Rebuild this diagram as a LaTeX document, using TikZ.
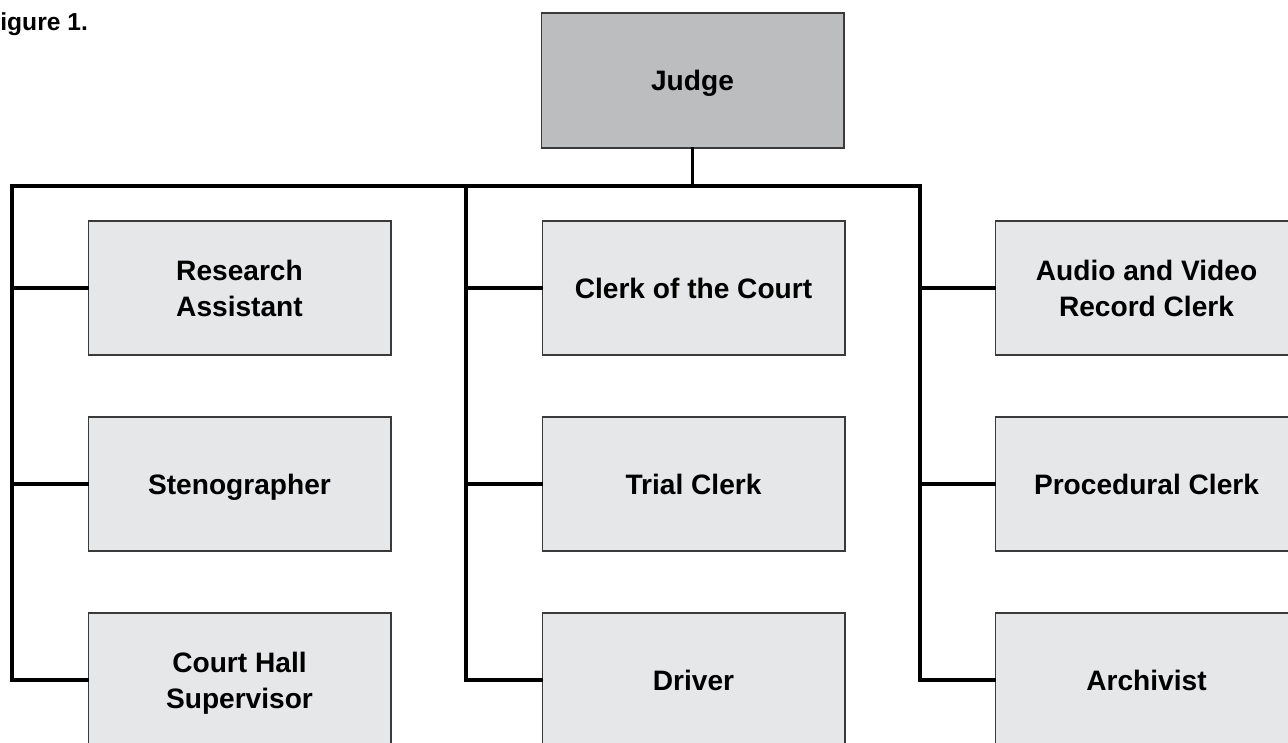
\documentclass[tikz,border=0pt]{standalone}
\usepackage{fontspec}
\setmainfont{Liberation Sans}
\usetikzlibrary{positioning,calc}
\definecolor{JudgeGray}{HTML}{BCBDBF}
\definecolor{StaffGray}{HTML}{E6E7E8}
\definecolor{EdgeGray}{HTML}{3A3A3A}
\tikzset{
    block/.style = {draw=EdgeGray, line width=0.6pt, fill=StaffGray, rectangle,
        minimum height=2.68cm,
        minimum width=6.06cm, inner sep=0pt, align=center, text depth=0pt,
        font=\fontsize{16}{20.5}\selectfont\bfseries},
    headblock/.style = {block, fill=JudgeGray, minimum height=2.7cm},
    bus/.style = {draw, black, line width=1.9pt, line cap=rect}
}

\begin{document}
\begin{tikzpicture}[x=0.02cm, y=-0.02cm]
        \useasboundingbox (0,0) rectangle (1288,743);
        \clip (0,0) rectangle (1288,743);
        \node [anchor=base west, inner sep=0pt, font=\fontsize{14}{17}\selectfont\bfseries] (figlabel) at (-15,31) {Figure 1.};
        \node [headblock] (judge) at (692.5,80.5) {Judge};
        % staff, column by column
        \foreach \name/\txt [count=\i] in {research/{Research\\Assistant}, steno/Stenographer, hall/{Court Hall\\Supervisor}}{
            \node [block] (\name) at (239.5,{288+196*(\i-1)}) {\txt};
        }
        \foreach \name/\txt [count=\i] in {clerk/Clerk of the Court, trial/Trial Clerk, driver/Driver}{
            \node [block] (\name) at (693.5,{288+196*(\i-1)}) {\txt};
        }
        \foreach \name/\txt [count=\i] in {avclerk/{Audio and Video\\Record Clerk}, proc/Procedural Clerk, archiv/Archivist}{
            \node [block] (\name) at (1146.5,{288+196*(\i-1)}) {\txt};
        }
        \coordinate (busL) at (12,186);
        \coordinate (busM) at (466,186);
        \coordinate (busR) at (920,186);
        \draw [bus] (judge.south) -- (judge.south |- busL);
        \draw [bus] (busL) -- (busR);
        \foreach \top/\a/\b/\c in {busL/research/steno/hall, busM/clerk/trial/driver, busR/avclerk/proc/archiv}{
            \draw [bus] (\top) |- (\c.west);
            \draw [bus] (\top |- \a.west) -- (\a.west);
            \draw [bus] (\top |- \b.west) -- (\b.west);
        }
\end{tikzpicture}
\end{document}
